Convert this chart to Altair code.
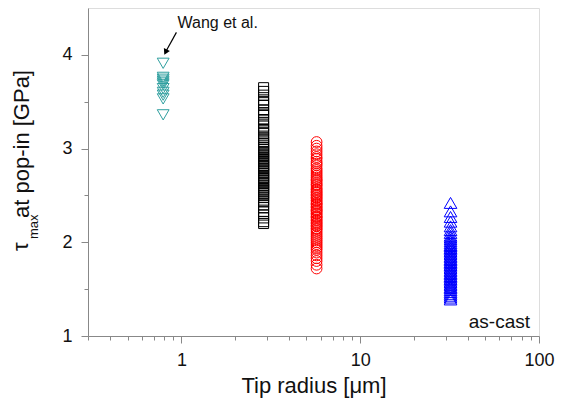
import altair as alt
import pandas as pd

# ---- data ----
wang_x = 0.79
wang_y = [3.91, 3.76, 3.74, 3.72, 3.70, 3.68, 3.64, 3.60, 3.57, 3.53, 3.36]

black_x = 2.88
black_y = [3.65, 3.61, 3.57, 3.52, 3.49, 3.46, 3.41, 3.38, 3.36, 3.31, 3.28, 3.24,
           3.21, 3.19, 3.16, 3.12, 3.10, 3.07, 3.05, 3.03, 3.01, 2.99, 2.97, 2.96,
           2.94, 2.92, 2.90, 2.89, 2.87, 2.86, 2.84, 2.82, 2.81, 2.79, 2.78, 2.76,
           2.74, 2.73, 2.71, 2.69, 2.68, 2.66, 2.64, 2.63, 2.61, 2.59, 2.57, 2.56,
           2.54, 2.52, 2.50, 2.48, 2.45, 2.43, 2.40, 2.37, 2.33, 2.29, 2.26, 2.22, 2.20]

red_x = 5.7
red_y = [3.07, 3.03, 3.00, 2.97, 2.94, 2.91, 2.89, 2.86, 2.84, 2.82, 2.79, 2.77,
         2.75, 2.73, 2.71, 2.69, 2.67, 2.66, 2.64, 2.62, 2.61, 2.59, 2.57, 2.56,
         2.54, 2.53, 2.51, 2.50, 2.48, 2.47, 2.45, 2.44, 2.42, 2.41, 2.40, 2.38,
         2.37, 2.35, 2.34, 2.33, 2.31, 2.30, 2.28, 2.27, 2.26, 2.24, 2.23, 2.21,
         2.20, 2.18, 2.17, 2.15, 2.14, 2.12, 2.10, 2.08, 2.06, 2.04, 2.02, 2.00,
         1.98, 1.96, 1.94, 1.92, 1.89, 1.86, 1.83, 1.80, 1.76, 1.72]

blue_x = 32.0
blue_y = [2.42, 2.33, 2.27, 2.22, 2.17, 2.13, 2.10, 2.07, 2.05, 2.03, 2.01, 1.99,
          1.97, 1.96, 1.94, 1.93, 1.91, 1.90, 1.88, 1.87, 1.85, 1.84, 1.82, 1.81,
          1.79, 1.78, 1.76, 1.75, 1.73, 1.72, 1.70, 1.69, 1.67, 1.66, 1.64, 1.63,
          1.61, 1.60, 1.58, 1.57, 1.55, 1.54, 1.52, 1.51, 1.49, 1.47, 1.45, 1.43,
          1.41, 1.39]

x_ticks = [0.3, 0.4, 0.5, 0.6, 0.7, 0.8, 0.9, 1, 2, 3, 4, 5, 6, 7, 8, 9,
           10, 20, 30, 40, 50, 60, 70, 80, 90, 100]
y_ticks = [1, 1.5, 2, 2.5, 3, 3.5, 4]

arrow_x = [0.937, 0.815]
arrow_y = [4.24, 4.03]
label_x = [0.95]
label_y = [4.29]

FONT = "Liberation Sans"

xscale = alt.Scale(type="log", domain=[0.3, 100], nice=False)
yscale = alt.Scale(domain=[1, 4.5], nice=False, zero=False)

x_axis = alt.Axis(
    values=x_ticks,
    labelExpr="datum.value==1 ? '1' : datum.value==10 ? '10' : datum.value==100 ? '100' : ''",
    tickSize={"condition": {"test": "datum.value==1||datum.value==10||datum.value==100", "value": 7}, "value": 4},
    labelFlush=False, labelFontSize=18, labelPadding=8, labelColor="#111",
    title="Tip radius [\u03bcm]", titleFontSize=22, titleFontWeight="normal",
    titlePadding=6, titleColor="#111", grid=False,
)
y_axis = alt.Axis(
    values=y_ticks,
    labelExpr="datum.value % 1 == 0 ? format(datum.value, 'd') : ''",
    tickSize={"condition": {"test": "datum.value % 1 == 0", "value": 7}, "value": 4},
    labelFontSize=18, labelPadding=9, labelColor="#111", title=None, grid=False,
)

def series(xv, yv):
    return pd.DataFrame({"x": [xv] * len(yv), "y": yv})

def layer(df, shape, color, size):
    return alt.Chart(df).mark_point(shape=shape, filled=False, color=color,
                                    size=size, strokeWidth=1, opacity=1).encode(
        x=alt.X("x:Q", scale=xscale, axis=x_axis),
        y=alt.Y("y:Q", scale=yscale, axis=y_axis),
    )

wang = layer(series(wang_x, wang_y), "triangle-down", "#2f9f9f", 140)
black = layer(series(black_x, black_y), "square", "#000000", 100)
red = layer(series(red_x, red_y), "circle", "#ff0000", 115)
blue = layer(series(blue_x, blue_y), "triangle-up", "#0000ff", 160)

arrow_df = pd.DataFrame({"x": arrow_x, "y": arrow_y})
arrow_line = alt.Chart(arrow_df).mark_line(color="#000", strokeWidth=1.2).encode(
    x=alt.X("x:Q", scale=xscale), y=alt.Y("y:Q", scale=yscale))
head_df = pd.DataFrame({"x": [arrow_x[1]], "y": [arrow_y[1]]})
arrow_head = alt.Chart(head_df).mark_point(shape="triangle-down", filled=True,
                                           color="#000", size=45, angle=26, opacity=1).encode(
    x=alt.X("x:Q", scale=xscale), y=alt.Y("y:Q", scale=yscale))

lab_df = pd.DataFrame({"x": label_x, "y": label_y, "t": ["Wang et al."]})
wang_label = alt.Chart(lab_df).mark_text(align="left", baseline="alphabetic",
                                         font=FONT, fontSize=16, color="#111").encode(
    x=alt.X("x:Q", scale=xscale), y=alt.Y("y:Q", scale=yscale), text="t:N")

ascast = alt.Chart(pd.DataFrame({"t": ["as-cast"]})).mark_text(
    align="right", baseline="alphabetic", font=FONT, fontSize=19, color="#111").encode(
    x=alt.value(442), y=alt.value(320), text="t:N")

tau = alt.Chart(pd.DataFrame({"t": ["\u03c4"]})).mark_text(
    angle=270, align="left", baseline="alphabetic",
    font=FONT, fontSize=22, color="#111").encode(
    x=alt.value(-60), y=alt.value(243), text="t:N")
sub = alt.Chart(pd.DataFrame({"t": ["max"]})).mark_text(
    angle=270, align="left", baseline="alphabetic",
    font=FONT, fontSize=13, color="#111").encode(
    x=alt.value(-50), y=alt.value(231), text="t:N")
rest = alt.Chart(pd.DataFrame({"t": ["at pop-in [GPa]"]})).mark_text(
    angle=270, align="left", baseline="alphabetic",
    font=FONT, fontSize=22, color="#111").encode(
    x=alt.value(-59), y=alt.value(210), text="t:N")

chart = alt.layer(wang, black, red, blue, arrow_line, arrow_head, wang_label,
                  ascast, tau, sub, rest).properties(
    width=451, height=328,
    autosize=alt.AutoSizeParams(type="none"),
    padding={"left": 80, "top": 0, "right": 18, "bottom": 66},
).configure_view(stroke="#222", strokeWidth=1.5).configure_axis(
    domainColor="#222", domainWidth=1.5, tickColor="#222", tickWidth=1.2,
    labelFont=FONT, titleFont=FONT,
).configure(background="white")

chart.save("out.html", embed_options={"renderer": "svg", "actions": False})
